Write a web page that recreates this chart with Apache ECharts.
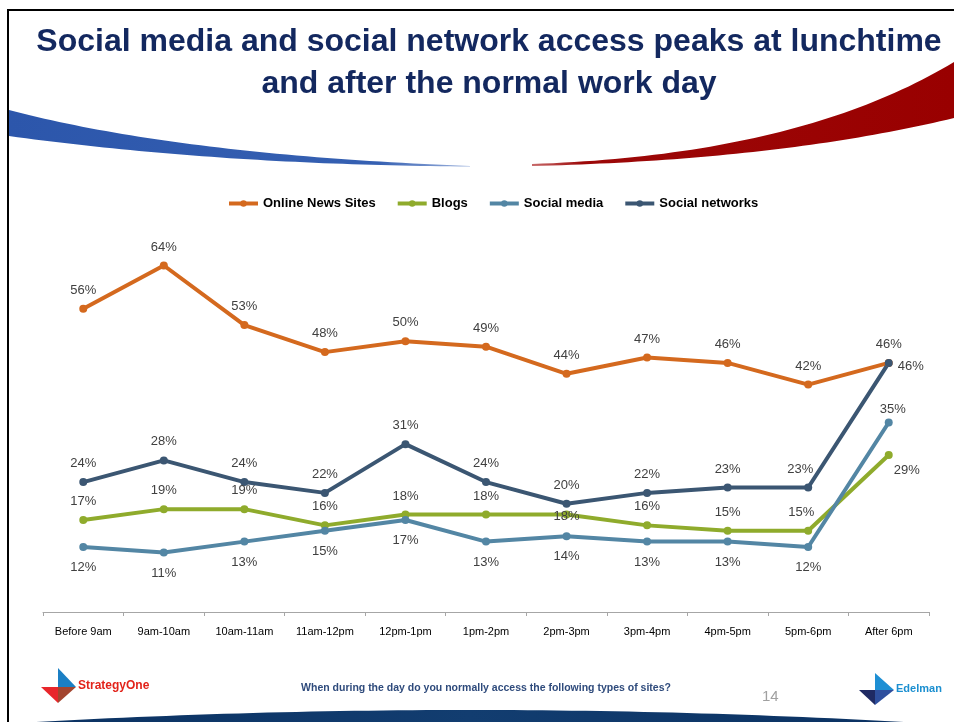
<!DOCTYPE html>
<html>
<head>
<meta charset="utf-8">
<script src="https://cdn.jsdelivr.net/npm/echarts@6/dist/echarts.min.js"></script>
<style>
html,body{margin:0;padding:0;background:#fff;}
#c{width:954px;height:722px;}
</style>
</head>
<body>
<div id="c"></div>
<script>
// ---- data ----
const categories = ['Before 9am','9am-10am','10am-11am','11am-12pm','12pm-1pm','1pm-2pm','2pm-3pm','3pm-4pm','4pm-5pm','5pm-6pm','After 6pm'];
const seriesNames = ['Online News Sites','Blogs','Social media','Social networks'];
const newsSites = [56,64,53,48,50,49,44,47,46,42,46];
const blogs = [17,19,19,16,18,18,18,16,15,15,29];
const socialMedia = [12,11,13,15,17,13,14,13,13,12,35];
const socialNetworks = [24,28,24,22,31,24,20,22,23,23,46];

// ---- styling ----
const FONT = '"Liberation Sans", Arial, sans-serif';
const colors = ['#d4691e','#8fab2c','#5386a4','#3b5672'];

function buildData(values, defaultPos, overrides) {
  return values.map(function (v, i) {
    const o = overrides[i] || {};
    return {
      value: v,
      label: {
        position: o.position || defaultPos,
        offset: o.offset || [0, 0],
        distance: o.distance != null ? o.distance : (defaultPos === 'bottom' ? 10 : 8)
      }
    };
  });
}

function makeSeries(name, values, color, defaultPos, overrides) {
  return {
    name: name,
    type: 'line',
    data: buildData(values, defaultPos, overrides),
    symbol: 'circle',
    symbolSize: 8,
    lineStyle: {width: 4, color: color},
    itemStyle: {color: color},
    label: {
      show: true,
      formatter: '{c}%',
      fontSize: 13,
      color: '#404040',
      fontFamily: FONT
    },
    z: 3
  };
}

// decorative shape helpers (quadratic bezier sampled to polygon points)
function quad(p0, c, p1, n) {
  const pts = [];
  for (let i = 0; i <= n; i++) {
    const t = i / n, u = 1 - t;
    pts.push([u * u * p0[0] + 2 * u * t * c[0] + t * t * p1[0], u * u * p0[1] + 2 * u * t * c[1] + t * t * p1[1]]);
  }
  return pts;
}
function band(a0, ac, a1, b0, bc, b1) {
  return quad(a0, ac, a1, 50).concat(quad(b0, bc, b1, 50));
}
function lg(stops) {
  return {type: 'linear', x: 0, y: 0, x2: 1, y2: 0, colorStops: stops};
}

const chart = echarts.init(document.getElementById('c'), null, {renderer: 'canvas'});

const option = {
  animation: false,
  backgroundColor: '#ffffff',
  title: {
    text: 'Social media and social network access peaks at lunchtime\nand after the normal work day',
    left: 484,
    top: 16,
    textAlign: 'center',
    textStyle: {
      fontFamily: FONT,
      fontSize: 32,
      fontWeight: 'bold',
      color: '#13285f',
      lineHeight: 42
    }
  },
  legend: {
    data: seriesNames,
    left: 222,
    top: 192,
    itemWidth: 29,
    itemHeight: 8,
    itemGap: 20,
    lineStyle: {width: 4},
    textStyle: {fontFamily: FONT, fontSize: 13, fontWeight: 'bold', color: '#000'}
  },
  grid: {left: 43, right: 25, top: 233, bottom: 110, containLabel: false},
  xAxis: {
    type: 'category',
    data: categories,
    boundaryGap: true,
    axisLine: {lineStyle: {color: '#a6a6a6', width: 1}},
    axisTick: {show: true, length: 4, lineStyle: {color: '#a6a6a6'}},
    axisLabel: {interval: 0, fontSize: 11, color: '#000', margin: 14, fontFamily: FONT}
  },
  yAxis: {
    type: 'value',
    min: 0,
    max: 70,
    show: false,
    splitLine: {show: false}
  },
  series: [
    makeSeries(seriesNames[0], newsSites, colors[0], 'top', {}),
    makeSeries(seriesNames[1], blogs, colors[1], 'top', {
      6: {position: 'inside', offset: [0, 2]},
      9: {position: 'top', offset: [-7, 0]},
      10: {position: 'bottom', offset: [18, 0], distance: 5}
    }),
    makeSeries(seriesNames[2], socialMedia, colors[2], 'bottom', {
      10: {position: 'top', offset: [4, 0], distance: 3}
    }),
    makeSeries(seriesNames[3], socialNetworks, colors[3], 'top', {
      9: {position: 'top', offset: [-8, 0]},
      10: {position: 'right', offset: [0, 3], distance: 5}
    })
  ],
  graphic: [
    // frame
    {type: 'polyline', shape: {points: [[8, 722], [8, 10], [954, 10]]}, style: {stroke: '#000', lineWidth: 2, fill: null}, z: 0},
    // blue swoosh
    {type: 'polygon', shape: {points: band([9, 110], [180, 155], [470, 166], [470, 166.5], [220, 165], [9, 136])},
      style: {fill: lg([{offset: 0, color: '#2c56ab'}, {offset: 0.8, color: '#3560b2'}, {offset: 1, color: '#9fb4de'}])}, z: 0},
    // red swoosh
    {type: 'polygon', shape: {points: band([532, 164], [800, 155], [954, 62], [954, 118], [780, 160], [532, 166])},
      style: {fill: lg([{offset: 0, color: '#c86a6a'}, {offset: 0.12, color: '#9c0808'}, {offset: 1, color: '#990000'}])}, z: 0},
    // bottom arc
    {type: 'polygon', shape: {points: quad([36, 722], [470, 698], [904, 722], 60)},
      style: {fill: lg([{offset: 0, color: '#0b3262'}, {offset: 0.5, color: '#123d70'}, {offset: 1, color: '#0b3262'}])}, z: 0},
    // StrategyOne logo
    {type: 'polygon', shape: {points: [[58, 668], [58, 687], [76, 687]]}, style: {fill: '#1b7fc4'}},
    {type: 'polygon', shape: {points: [[41, 687], [58, 687], [58, 703]]}, style: {fill: '#e8262b'}},
    {type: 'polygon', shape: {points: [[58, 687], [76, 687], [58, 703]]}, style: {fill: '#a3452f'}},
    {type: 'text', left: 78, top: 680, style: {text: 'StrategyOne', font: 'bold 12px ' + FONT, fill: '#e2231a'}},
    // question
    {type: 'text', x: 486, y: 683, style: {text: 'When during the day do you normally access the following types of sites?', font: 'bold 10.5px ' + FONT, fill: '#2f4b7c', textAlign: 'center'}},
    // page number
    {type: 'text', left: 762, top: 689, style: {text: '14', font: '15px ' + FONT, fill: '#a0a0a0'}},
    // Edelman logo
    {type: 'polygon', shape: {points: [[875, 673], [875, 690], [894, 690]]}, style: {fill: '#1e8fd4'}},
    {type: 'polygon', shape: {points: [[859, 690], [875, 690], [875, 705]]}, style: {fill: '#1f2a63'}},
    {type: 'polygon', shape: {points: [[875, 690], [894, 690], [875, 705]]}, style: {fill: '#2e4f9e'}},
    {type: 'text', left: 896, top: 683, style: {text: 'Edelman', font: 'bold 11px ' + FONT, fill: '#1b8fd0'}}
  ]
};

chart.setOption(option);
</script>
</body>
</html>
